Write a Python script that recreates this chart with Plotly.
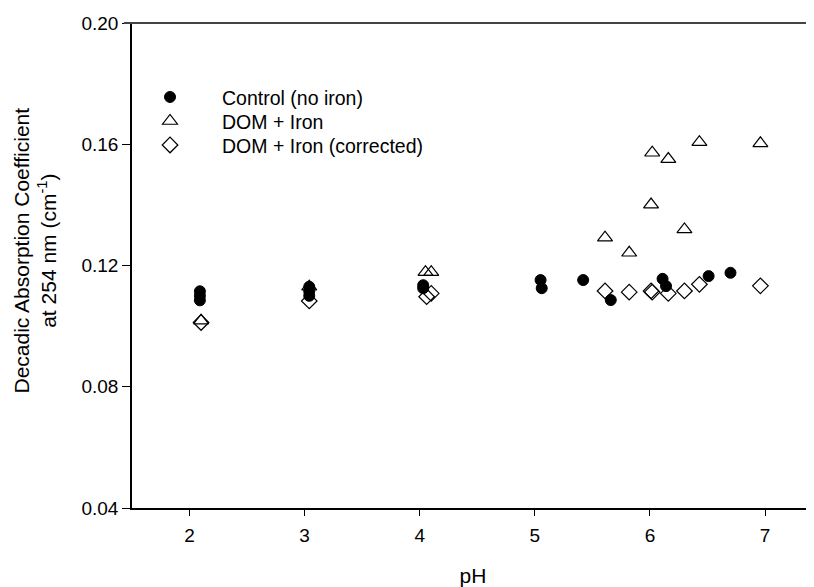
import plotly.graph_objects as go

# ---- data ----
control_ph = [2.09, 2.09, 2.09, 3.04, 3.04, 3.04, 4.03, 4.03, 5.05, 5.06, 5.42, 5.66, 6.11, 6.14, 6.51, 6.70]
control_val = [0.1115, 0.1100, 0.1085, 0.1130, 0.1115, 0.1100, 0.1135, 0.1125, 0.1152, 0.1125,
               0.1152, 0.1086, 0.1156, 0.1132, 0.1165, 0.1176]

iron_ph = [2.10, 3.04, 4.05, 4.10, 5.61, 5.82, 6.01, 6.02, 6.16, 6.30, 6.43, 6.96]
iron_val = [0.1018, 0.1130, 0.1178, 0.1178, 0.1292, 0.1242, 0.1401, 0.1572, 0.1551, 0.1319, 0.1607, 0.1603]

corr_ph = [2.10, 3.04, 4.06, 4.10, 5.61, 5.82, 6.01, 6.02, 6.16, 6.30, 6.43, 6.96]
corr_val = [0.1012, 0.1083, 0.1097, 0.1108, 0.1116, 0.1112, 0.1116, 0.1112, 0.1108, 0.1116, 0.1138, 0.1133]

x_ticks = [2, 3, 4, 5, 6, 7]
y_ticks = [0.04, 0.08, 0.12, 0.16, 0.20]

FONT = "Liberation Sans, Arial, sans-serif"

fig = go.Figure()
fig.add_trace(go.Scatter(x=control_ph, y=control_val, mode="markers", name="Control (no iron)",
                         legend="legend",
                         marker=dict(symbol="circle", size=11, color="black",
                                     line=dict(color="black", width=1))))
fig.add_trace(go.Scatter(x=iron_ph, y=iron_val, mode="markers", name="DOM + Iron",
                         legend="legend2",
                         marker=dict(symbol="triangle-up-open", size=13, color="black",
                                     line=dict(color="black", width=1.2))))
fig.add_trace(go.Scatter(x=corr_ph, y=corr_val, mode="markers", name="DOM + Iron (corrected)",
                         legend="legend3",
                         marker=dict(symbol="diamond-open", size=12, color="black",
                                     line=dict(color="black", width=1.2))))

leg_common = dict(x=-0.0205, xanchor="left", yanchor="top", bgcolor="rgba(0,0,0,0)",
                  itemwidth=94, font=dict(family=FONT, size=19.5, color="black"))

# page body has an 8px margin, so the figure is sized/offset to compensate
fig.update_layout(
    width=806, height=579,
    margin=dict(l=124, r=0, t=15, b=79),
    paper_bgcolor="white", plot_bgcolor="white",
    font=dict(family=FONT, size=19, color="black"),
    showlegend=True,
    legend=dict(y=0.887, **leg_common),
    legend2=dict(y=0.8375, **leg_common),
    legend3=dict(y=0.788, **leg_common),
    xaxis=dict(range=[1.5, 7.4257], tickvals=x_ticks, ticktext=[str(v) for v in x_ticks],
               showgrid=False, zeroline=False, showline=True, linecolor="black", linewidth=1.5,
               ticks="outside", ticklen=6, tickwidth=1, tickcolor="black",
               tickfont=dict(size=19), ticklabelstandoff=3,
               title=dict(text="pH", font=dict(size=21), standoff=25)),
    yaxis=dict(range=[0.04, 0.20], tickvals=y_ticks, tickformat=".2f",
               showgrid=False, zeroline=False, showline=True, linecolor="black", linewidth=1.5,
               ticks="outside", ticklen=8, tickwidth=1, tickcolor="black",
               tickfont=dict(size=19)),
    shapes=[dict(type="line", xref="paper", yref="paper", x0=-0.012, x1=1, y0=1, y1=1,
                 line=dict(color="#444444", width=2))],
    annotations=[dict(text="Decadic Absorption Coefficient<br>at 254 nm (cm<sup>-1</sup>)",
                      xref="paper", yref="paper", x=0, y=0.5, xanchor="center", yanchor="middle",
                      xshift=-98, yshift=15, textangle=-90, showarrow=False,
                      font=dict(family=FONT, size=21, color="black"))],
)

fig.write_html("out.html")
